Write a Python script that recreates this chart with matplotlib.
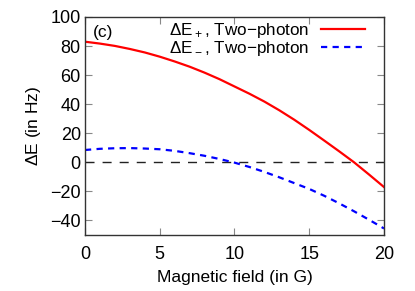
"""Energy shift vs magnetic field, panel (c)."""

import numpy as np
import matplotlib
matplotlib.use("Agg")
import matplotlib.pyplot as plt

plt.rcParams["font.family"] = ["Liberation Sans", "DejaVu Sans"]
plt.rcParams["mathtext.fontset"] = "custom"
plt.rcParams["mathtext.rm"] = "Liberation Sans"

# magnetic field (G)
field = np.arange(0, 21)
# Delta E_+ two-photon (Hz)
de_plus = [83.0, 81.7, 80.1, 78.0, 75.6, 72.7, 69.4, 65.8, 61.7, 57.2, 52.2,
           47.2, 41.8, 35.8, 29.3, 22.3, 15.0, 7.6, 0.0, -8.4, -17.0]
# Delta E_- two-photon (Hz)
de_minus = [8.5, 9.3, 9.7, 9.8, 9.5, 9.0, 7.9, 6.3, 4.5, 2.3, -0.2,
            -3.2, -6.6, -10.3, -14.3, -18.3, -23.0, -28.2, -33.7, -39.5, -45.5]

x_ticks = [0, 5, 10, 15, 20]
y_ticks = [-40, -20, 0, 20, 40, 60, 80, 100]

fig = plt.figure(figsize=(4.15, 2.91), dpi=100)
ax = fig.add_axes([0.2048, 0.1924, 0.7205, 0.7492])

ax.axhline(0, color="#222222", lw=1.0, dashes=(6.5, 5.8))
ax.plot(field, de_plus, color="#ff0000", lw=1.6,
        label=r"$\Delta$E$_+$, Two$-$photon")
ax.plot(field, de_minus, color="#0000ff", lw=1.6, dashes=(2.8, 2.4),
        label=r"$\Delta$E$_-$, Two$-$photon")

ax.set_xlim(0, 20)
ax.set_ylim(-50, 100)
ax.set_xticks(x_ticks)
ax.set_yticks(y_ticks)
ax.set_yticklabels([str(v).replace("-", "\u2212") for v in y_ticks])
ax.tick_params(direction="in", length=5, width=0.8, color="#888888",
               top=True, right=True, labelsize=13)
ax.tick_params(axis="x", pad=8)
ax.tick_params(axis="y", pad=3)
for s in ax.spines.values():
    s.set_linewidth(1.0)
    s.set_color("#333333")

ax.set_xlabel("Magnetic field (in G)", fontsize=12.5, labelpad=5)
ax.set_ylabel(r"$\Delta$E (in Hz)", fontsize=12.5, labelpad=5)
ax.text(0.025, 0.965, "(c)", transform=ax.transAxes, fontsize=12.5,
        ha="left", va="top")

ax.legend(loc="upper right", markerfirst=False, frameon=False, fontsize=12.3,
          handlelength=2.6, handletextpad=0.7, labelspacing=-0.05,
          borderaxespad=0.0, bbox_to_anchor=(0.96, 1.015))

fig.savefig("out.png", dpi=100)
